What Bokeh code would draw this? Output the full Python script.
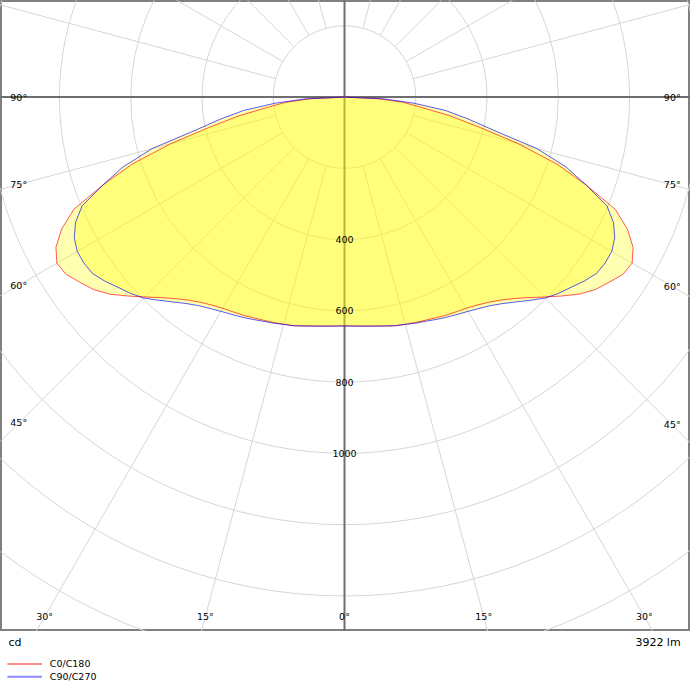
import numpy as np
from bokeh.plotting import figure
from bokeh.models import Range1d, ColumnDataSource
from bokeh.layouts import column
from bokeh.embed import file_html
from bokeh.resources import INLINE
from bokeh.core.properties import value

# ---------------- data ----------------
gamma_deg = [0, 2.5, 5, 7.5, 10, 12.5, 15, 17.5, 20, 22.5, 25, 27.5, 30, 32.5, 35,
             37.5, 40, 42.5, 45, 47.5, 50, 52.5, 55, 57.5, 60, 62.5, 65, 67.5, 70,
             72.5, 75, 77.5, 80, 82.5, 85, 87.5, 90]
c0_c180 = [642, 643, 645, 648, 652, 657, 660, 663, 666, 670, 675, 679, 684, 692, 703,
           718, 738, 763, 793, 826, 860, 887, 906, 926, 932, 913, 876, 822, 722,
           625, 505, 385, 300, 215, 165, 90, 0]
c90_c270 = [642, 643, 645, 648, 652, 657, 660, 665, 669, 675, 681, 687, 694, 703, 714,
            730, 750, 773, 797, 815, 830, 848, 863, 867, 866, 855, 833, 797, 722,
            652, 560, 428, 352, 285, 195, 110, 0]
series_names = ["C0/C180", "C90/C270"]
series_colors = ["#ff0000", "#0000ff"]
legend_colors = ["#ff8c8c", "#8c8cff"]
ring_values = [200, 400, 600, 800, 1000, 1200, 1400, 1600, 1800]
ring_labels = [400, 600, 800, 1000]
spoke_angles = [15, 30, 45, 60, 75, 105, 120, 135, 150, 165]
side_angle_labels = [90, 75, 60, 45]
bottom_angle_labels = [30, 15, 0]
unit_text = "cd"
flux_text = "3922 lm"

# ---------------- geometry ----------------
PX = 0.3615            # reference pixels per cd
CX, CY = 349.0, 98.0   # polar centre in reference pixels
FW, FH = 700.0, 640.0  # plot frame in reference pixels
S = 690.0 / 700.0      # overall scale to fit the window

FONT = value("DejaVu Sans")
GRID = "#d6d6d6"
AXIS = "#6e6e6e"

p = figure(width=690, height=int(round(FH * S)),
           x_range=Range1d(-CX / PX, (FW - CX) / PX),
           y_range=Range1d(-(FH - CY) / PX, CY / PX),
           x_axis_type=None, y_axis_type=None,
           output_backend="svg", toolbar_location=None, min_border=0)
p.grid.visible = False
p.outline_line_color = "#808080"
p.outline_line_width = 3
p.background_fill_color = "white"
p.border_fill_color = "white"

# rings
p.circle(x=[0] * len(ring_values), y=[0] * len(ring_values), radius=ring_values,
         fill_color=None, line_color=GRID, line_width=1)

# spokes (start at the first ring)
R0, R1 = ring_values[0], 3000
sx0, sy0, sx1, sy1 = [], [], [], []
for a in spoke_angles:
    t = np.radians(a)
    for sgn in (-1, 1):
        sx0.append(sgn * R0 * np.sin(t)); sy0.append(-R0 * np.cos(t))
        sx1.append(sgn * R1 * np.sin(t)); sy1.append(-R1 * np.cos(t))
p.segment(x0=sx0, y0=sy0, x1=sx1, y1=sy1, line_color=GRID, line_width=1)

# main axes
p.segment(x0=[0, -3000], y0=[-3000, 0], x1=[0, 3000], y1=[3000, 0],
          line_color=AXIS, line_width=2)

# curves
g = np.radians(np.array(gamma_deg))
for vals, col in zip([c0_c180, c90_c270], series_colors):
    I = np.array(vals, dtype=float)
    xs = np.concatenate([-(I * np.sin(g))[::-1], (I * np.sin(g))[1:]])
    ys = np.concatenate([-(I * np.cos(g))[::-1], -(I * np.cos(g))[1:]])
    p.patch(xs, ys, fill_color="#ffff00", fill_alpha=0.3, line_color=None)
for vals, col in zip([c0_c180, c90_c270], series_colors):
    I = np.array(vals, dtype=float)
    xs = np.concatenate([-(I * np.sin(g))[::-1], (I * np.sin(g))[1:]])
    ys = np.concatenate([-(I * np.cos(g))[::-1], -(I * np.cos(g))[1:]])
    p.line(xs, ys, line_color=col, line_alpha=0.65, line_width=1)

# ring labels
p.text(x=[0] * len(ring_labels), y=[-v for v in ring_labels],
       text=[str(v) for v in ring_labels], text_font=FONT, text_font_size="9.5px",
       text_align="center", text_baseline="middle", text_color="black")

# side angle labels (centred on spoke at fixed inset)
xl = (CX - 18.5) / PX
xr = (FW - 18.5 - CX) / PX
lx, ly, lt = [], [], []
for a in side_angle_labels:
    t = np.radians(a)
    cot = np.cos(t) / np.sin(t)
    lx += [-xl, xr]
    ly += [-xl * cot, -xr * cot]
    lt += [f"{a}°", f"{a}°"]
# bottom labels
yb = (625 - CY) / PX
for a in bottom_angle_labels:
    t = np.radians(a)
    if a == 0:
        lx.append(0); ly.append(-yb); lt.append(f"{a}°")
    else:
        lx += [-yb * np.tan(t), yb * np.tan(t)]
        ly += [-yb, -yb]
        lt += [f"{a}°", f"{a}°"]
p.text(x=lx, y=ly, text=lt, text_font=FONT, text_font_size="9.5px",
       text_align="center", text_baseline="middle", text_color="black")

# ---------------- footer ----------------
f = figure(width=690, height=58, x_range=Range1d(0, 700), y_range=Range1d(699, 640),
           x_axis_type=None, y_axis_type=None,
           output_backend="svg", toolbar_location=None, min_border=0)
f.grid.visible = False
f.outline_line_color = None
f.text(x=[8], y=[651], text=[unit_text], text_font=FONT, text_font_size="11px",
       text_align="left", text_baseline="middle", text_color="black")
f.text(x=[690], y=[651], text=[flux_text], text_font=FONT, text_font_size="11px",
       text_align="right", text_baseline="middle", text_color="black")
leg_y = [673, 686]
f.segment(x0=[7, 7], y0=leg_y, x1=[42, 42], y1=leg_y, line_color=legend_colors,
          line_width=2)
f.text(x=[50, 50], y=leg_y, text=series_names, text_font=FONT, text_font_size="9.5px",
       text_align="left", text_baseline="middle", text_color="black")

layout = column(p, f, spacing=0)
open("out.html", "w").write(file_html(layout, INLINE))
